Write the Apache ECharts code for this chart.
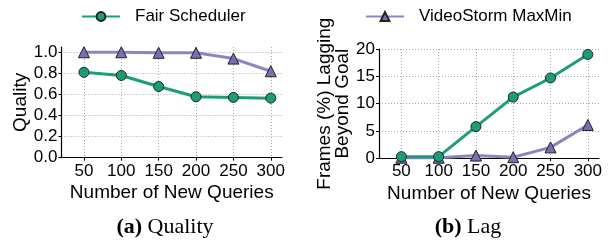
<!DOCTYPE html>
<html><head><meta charset="utf-8">
<script src="https://cdn.jsdelivr.net/npm/echarts@6/dist/echarts.min.js"></script>
<style>html,body{margin:0;padding:0;background:#fff}#c{width:614px;height:242px}</style>
</head><body><div id="c"></div><script>
const queries = [50, 100, 150, 200, 250, 300];
const qualityFair = [0.81, 0.78, 0.675, 0.578, 0.572, 0.565];
const qualityVS = [1.0, 1.0, 0.995, 0.995, 0.94, 0.82];
const lagFair = [0.3, 0.3, 5.8, 11.2, 14.7, 19.0];
const lagVS = [0.1, 0.1, 0.5, 0.2, 2.0, 6.1];
const qualityTicks = [0, 0.2, 0.4, 0.6, 0.8, 1.0];
const lagTicks = [0, 5, 10, 15, 20];
const seriesNames = ['Fair Scheduler', 'VideoStorm MaxMin'];

const GREEN = '#1b9e77', PURPLE = '#7570b3';
const FONT = 'Liberation Sans';
const chart = echarts.init(document.getElementById('c'), null, {renderer: 'canvas'});

function pairs(xs, ys) { return xs.map((x, i) => [x, ys[i]]); }

function xAxis(idx) {
  return {
    type: 'value', gridIndex: idx, min: 20, max: 315,
    name: 'Number of New Queries', nameLocation: 'middle', nameGap: 26,
    nameTextStyle: {fontFamily: FONT, fontSize: 19, color: '#000'},
    axisLine: {show: true, lineStyle: {color: '#000', width: 1.2}},
    axisTick: {show: true, customValues: queries, length: 3, lineStyle: {color: '#000'}},
    axisLabel: {customValues: queries, fontFamily: FONT, fontSize: 17, color: '#000', margin: 5},
    splitLine: {show: true, customValues: queries, lineStyle: {color: '#aaa', type: [1, 2], width: 1}}
  };
}
function yAxis(idx, ticks, max, name, gap, fmt) {
  return {
    type: 'value', gridIndex: idx, min: 0, max: max,
    name: name, nameLocation: 'middle', nameGap: gap, nameRotate: 90,
    nameTextStyle: {fontFamily: FONT, fontSize: 19, color: '#000', lineHeight: 18},
    axisLine: {show: true, lineStyle: {color: '#000', width: 1.2}},
    axisTick: {show: true, customValues: ticks, length: 3, lineStyle: {color: '#000'}},
    axisLabel: {customValues: ticks, fontFamily: FONT, fontSize: 17, color: '#000', margin: 4, formatter: fmt},
    splitLine: {show: true, customValues: ticks, lineStyle: {color: '#aaa', type: [1, 2], width: 1}}
  };
}
function line(name, xi, data, color, symbol, size, lineColor) {
  return {
    name: name, type: 'line', xAxisIndex: xi, yAxisIndex: xi, data: data,
    symbol: symbol, symbolSize: size, clip: false,
    lineStyle: {color: lineColor, width: 3},
    itemStyle: {color: color, borderColor: '#222', borderWidth: 1},
    z: name === seriesNames[0] ? 3 : 2
  };
}

chart.setOption({
  animation: false,
  backgroundColor: '#fff',
  legend: [
    {data: [seriesNames[0]], left: 76, top: 3, itemWidth: 38, itemHeight: 11,
     textStyle: {fontFamily: FONT, fontSize: 17, color: '#000', padding: [0, 0, 0, 10]}},
    {data: [seriesNames[1]], left: 360, top: 3, itemWidth: 38, itemHeight: 11,
     textStyle: {fontFamily: FONT, fontSize: 17, color: '#000', padding: [0, 0, 0, 10]}}
  ],
  title: [
    {text: '{b|(a)} Quality', left: 160, top: 211, textAlign: 'center',
     textStyle: {fontFamily: 'Liberation Serif', fontSize: 22, fontWeight: 'normal', color: '#000',
       rich: {b: {fontFamily: 'Liberation Serif', fontSize: 22, fontWeight: 'bold', color: '#000'}}}},
    {text: '{b|(b)} Lag', left: 463, top: 211, textAlign: 'center',
     textStyle: {fontFamily: 'Liberation Serif', fontSize: 22, fontWeight: 'normal', color: '#000',
       rich: {b: {fontFamily: 'Liberation Serif', fontSize: 22, fontWeight: 'bold', color: '#000'}}}}
  ],
  grid: [
    {left: 61.5, width: 220.5, top: 47, height: 110.7},
    {left: 379, width: 220, top: 49, height: 109.3}
  ],
  xAxis: [xAxis(0), xAxis(1)],
  yAxis: [
    yAxis(0, qualityTicks, 1.05, 'Quality', 30, v => v.toFixed(1)),
    yAxis(1, lagTicks, 20, 'Frames (%) Lagging\nBeyond Goal', 26, v => String(v))
  ],
  series: [
    line(seriesNames[0], 0, pairs(queries, qualityFair), GREEN, 'circle', 10, GREEN),
    line(seriesNames[1], 0, pairs(queries, qualityVS), PURPLE, 'triangle', 11, '#8a86c2'),
    line(seriesNames[0], 1, pairs(queries, lagFair), GREEN, 'circle', 10, GREEN),
    line(seriesNames[1], 1, pairs(queries, lagVS), PURPLE, 'triangle', 11, '#8a86c2')
  ]
});
</script></body></html>
